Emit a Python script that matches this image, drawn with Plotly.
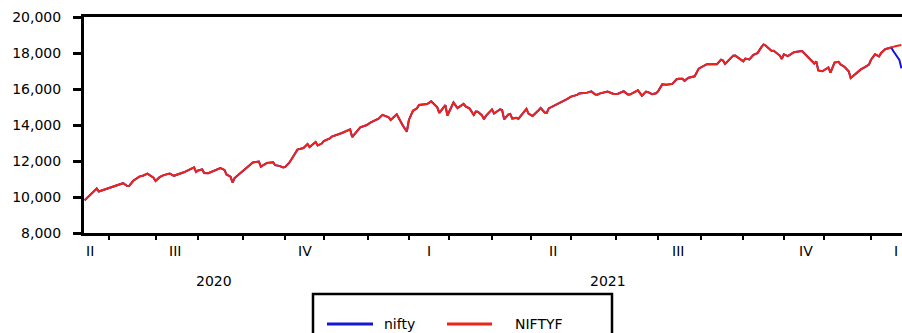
import pandas as pd
import plotly.graph_objects as go

# NSE weekday holidays inside the sample (sessions calendar)
holidays = [
    "2020-10-02", "2020-11-16", "2020-11-30", "2020-12-25",
    "2021-01-26", "2021-03-11", "2021-03-29", "2021-04-02", "2021-04-14",
    "2021-04-21", "2021-05-13", "2021-07-21", "2021-08-19", "2021-09-10",
    "2021-10-15", "2021-11-05", "2021-11-19",
]

# Nifty closing levels, by year
dates_2020 = [
    "2020-06-15", "2020-06-19", "2020-06-22", "2020-06-23", "2020-06-24", "2020-06-26",
    "2020-07-03", "2020-07-10", "2020-07-14", "2020-07-15", "2020-07-17", "2020-07-22",
    "2020-07-24", "2020-07-28", "2020-07-31", "2020-08-03", "2020-08-05", "2020-08-07",
    "2020-08-12", "2020-08-14", "2020-08-21", "2020-08-28", "2020-08-31", "2020-09-01",
    "2020-09-03", "2020-09-04", "2020-09-08", "2020-09-11", "2020-09-16", "2020-09-18",
    "2020-09-21", "2020-09-23", "2020-09-24", "2020-09-25", "2020-10-01", "2020-10-05",
    "2020-10-07", "2020-10-09", "2020-10-14", "2020-10-15", "2020-10-16", "2020-10-20",
    "2020-10-23", "2020-10-26", "2020-10-28", "2020-10-30", "2020-11-02", "2020-11-04",
    "2020-11-06", "2020-11-10", "2020-11-13", "2020-11-18", "2020-11-19", "2020-11-20",
    "2020-11-24", "2020-11-25", "2020-11-27", "2020-12-01", "2020-12-04", "2020-12-07",
    "2020-12-11", "2020-12-14", "2020-12-18", "2020-12-21", "2020-12-22", "2020-12-24",
    "2020-12-28", "2020-12-31",
]
close_2020 = [
    9813, 10244, 10311, 10471, 10305, 10383,
    10607, 10768, 10607, 10618, 10902, 11132,
    11194, 11300, 11073, 10892, 11102, 11214,
    11308, 11178, 11372, 11647, 11388, 11470,
    11527, 11333, 11317, 11464, 11604, 11505,
    11250, 11132, 10806, 11050, 11417, 11503,
    11738, 11914, 11971, 11680, 11762, 11897,
    11930, 11767, 11729, 11642, 11669, 11908,
    12264, 12631, 12720, 12938, 12771, 12859,
    13055, 12858, 12969, 13109, 13259, 13355,
    13514, 13558, 13761, 13328, 13466, 13749,
    13873, 13982,
]

dates_2021 = [
    "2021-01-04", "2021-01-08", "2021-01-12", "2021-01-15", "2021-01-18", "2021-01-21",
    "2021-01-22", "2021-01-25", "2021-01-27", "2021-01-29", "2021-02-01", "2021-02-03",
    "2021-02-05", "2021-02-08", "2021-02-12", "2021-02-16", "2021-02-19", "2021-02-22",
    "2021-02-25", "2021-02-26", "2021-03-01", "2021-03-03", "2021-03-05", "2021-03-10",
    "2021-03-12", "2021-03-16", "2021-03-18", "2021-03-19", "2021-03-22", "2021-03-24",
    "2021-03-25", "2021-03-26", "2021-04-01", "2021-04-05", "2021-04-08", "2021-04-09",
    "2021-04-12", "2021-04-15", "2021-04-16", "2021-04-19", "2021-04-22", "2021-04-23",
    "2021-04-26", "2021-04-29", "2021-04-30", "2021-05-04", "2021-05-07", "2021-05-10",
    "2021-05-12", "2021-05-14", "2021-05-17", "2021-05-19", "2021-05-21", "2021-05-24",
    "2021-05-28", "2021-06-01", "2021-06-04", "2021-06-07", "2021-06-11", "2021-06-15",
    "2021-06-17", "2021-06-18", "2021-06-21", "2021-06-25", "2021-06-28", "2021-06-30",
    "2021-07-02", "2021-07-07", "2021-07-09", "2021-07-12", "2021-07-16", "2021-07-20",
    "2021-07-23", "2021-07-26", "2021-07-28", "2021-07-30", "2021-08-02", "2021-08-04",
    "2021-08-06", "2021-08-11", "2021-08-13", "2021-08-16", "2021-08-18", "2021-08-20",
    "2021-08-24", "2021-08-27", "2021-08-31", "2021-09-03", "2021-09-06", "2021-09-09",
    "2021-09-14", "2021-09-16", "2021-09-17", "2021-09-20", "2021-09-24", "2021-09-27",
    "2021-09-30", "2021-10-01", "2021-10-04", "2021-10-06", "2021-10-08", "2021-10-12",
    "2021-10-14", "2021-10-18", "2021-10-19", "2021-10-22", "2021-10-25", "2021-10-28",
    "2021-10-29", "2021-11-01", "2021-11-03", "2021-11-04", "2021-11-09", "2021-11-12",
    "2021-11-15", "2021-11-18", "2021-11-23", "2021-11-24", "2021-11-25", "2021-11-26",
    "2021-11-30", "2021-12-03", "2021-12-06", "2021-12-08", "2021-12-10", "2021-12-13",
    "2021-12-15", "2021-12-17", "2021-12-20", "2021-12-24", "2021-12-27", "2021-12-29",
    "2021-12-31",
]
close_2021 = [
    14132, 14347, 14564, 14433, 14281, 14590,
    14372, 14239, 13968, 13635, 14281, 14790,
    14924, 15116, 15163, 15314, 14982, 14676,
    15097, 14529, 14762, 15246, 14938, 15174,
    15031, 14911, 14557, 14744, 14736, 14549,
    14325, 14507, 14867, 14638, 14874, 14835,
    14311, 14581, 14617, 14359, 14406, 14341,
    14485, 14895, 14631, 14496, 14823, 14942,
    14697, 14677, 14923, 15030, 15175, 15197,
    15436, 15575, 15670, 15752, 15799, 15869,
    15691, 15683, 15746, 15860, 15815, 15721,
    15722, 15879, 15690, 15692, 15923, 15632,
    15856, 15824, 15709, 15763, 15885, 16258,
    16238, 16282, 16529, 16563, 16569, 16450,
    16625, 16705, 17132, 17324, 17377, 17369,
    17380, 17630, 17585, 17397, 17853, 17855,
    17618, 17532, 17691, 17646, 17895, 17991,
    18339, 18477, 18418, 18115, 18125, 17857,
    17672, 17929, 17830, 17916, 18044, 18103,
    18109, 17765, 17503, 17415, 17536, 17027,
    16983, 17197, 16912, 17469, 17511, 17368,
    17221, 16985, 16614, 17004, 17086, 17213,
    17354,
]

dates_2022 = [
    "2022-01-03", "2022-01-05", "2022-01-07", "2022-01-10", "2022-01-12", "2022-01-14",
    "2022-01-17", "2022-01-18", "2022-01-19", "2022-01-20", "2022-01-21", "2022-01-24",
]
close_2022 = [
    17625, 17925, 17813, 18003, 18212, 18256,
    18309, 18113, 17938, 17757, 17617, 17149,
]

# NIFTYF: fitted path, extended past the last fitted session
fc_start = "2022-01-17"
fc_dates = ["2022-01-18", "2022-01-19", "2022-01-20", "2022-01-21", "2022-01-24"]
niftyf_tail = [18340, 18370, 18400, 18420, 18440]

y_ticks = [8000, 10000, 12000, 14000, 16000, 18000, 20000]
quarter_names = ["I", "II", "III", "IV"]

# ---- session index (trading-day axis) ----
sessions = pd.bdate_range("2020-06-15", "2022-01-24")
sessions = sessions[~sessions.isin(pd.to_datetime(holidays))]
pos = pd.Series(range(len(sessions)), index=sessions)

def idx(dates):
    return [int(pos[pd.Timestamp(d)]) for d in dates]

obs_dates = dates_2020 + dates_2021 + dates_2022
nifty = close_2020 + close_2021 + close_2022
x_nifty = idx(obs_dates)
cut = obs_dates.index(fc_start) + 1
x_f = x_nifty[:cut] + idx(fc_dates)
y_f = nifty[:cut] + niftyf_tail

lo, hi = 0, len(sessions) - 1

# month boundaries -> tick marks
month_first = sessions.to_series().groupby(sessions.to_period("M")).first()
month_ticks = [int(pos[d]) for d in month_first.values if int(pos[d]) > lo]

# quarter labels (partial quarters pinned near the plot edges)
q_groups = sessions.to_series().groupby(sessions.to_period("Q"))
q_annots = []
for per, s in q_groups:
    a, b = int(pos[s.iloc[0]]), int(pos[s.iloc[-1]])
    if a == lo and per.start_time < sessions[0]:
        xq = lo + 2.5
    elif b == hi and per.end_time > sessions[-1]:
        xq = hi - 2.5
    else:
        xq = (a + b) / 2
    q_annots.append((xq, quarter_names[per.quarter - 1]))

y_groups = sessions.to_series().groupby(sessions.year)
year_annots = []
for yr, s in y_groups:
    a, b = int(pos[s.iloc[0]]), int(pos[s.iloc[-1]])
    if b - a > 100:
        year_annots.append(((a + b) / 2, str(yr)))

# ---- figure ----
W, H = 902, 333
ML, MR, MT, MB = 84, 0, 17, 100
PW, PH = W - ML - MR, H - MT - MB

def px(xp):
    return (xp - ML) / PW

def py(yp):
    return (H - MB - yp) / PH

BLUE = "rgb(22,22,214)"
RED = "rgb(238,36,22)"
FONT = "DejaVu Sans"

fig = go.Figure()
fig.add_trace(go.Scatter(x=x_nifty, y=nifty, mode="lines", name="nifty",
                         line=dict(color=BLUE, width=2), showlegend=False))
fig.add_trace(go.Scatter(x=x_f, y=y_f, mode="lines", name="NIFTYF",
                         line=dict(color=RED, width=2), showlegend=False))

annots = []
for xq, t in q_annots:
    annots.append(dict(x=xq, y=py(251), xref="x", yref="paper", text=t,
                       showarrow=False, xanchor="center", yanchor="middle",
                       font=dict(family=FONT, size=14, color="black")))
for xy, t in year_annots:
    annots.append(dict(x=xy, y=py(281), xref="x", yref="paper", text=t,
                       showarrow=False, xanchor="center", yanchor="middle", xshift=-11,
                       font=dict(family=FONT, size=14, color="black")))

# legend box
shapes = [
    dict(type="rect", xref="paper", yref="paper", x0=px(313), x1=px(612),
         y0=py(356), y1=py(294), line=dict(color="black", width=2.5),
         fillcolor="white"),
    dict(type="line", xref="paper", yref="paper", x0=px(327), x1=px(373),
         y0=py(324), y1=py(324), line=dict(color=BLUE, width=3)),
    dict(type="line", xref="paper", yref="paper", x0=px(447), x1=px(492),
         y0=py(324), y1=py(324), line=dict(color=RED, width=3)),
]
for xl, t in [(382, "nifty"), (513, "NIFTYF")]:
    annots.append(dict(x=px(xl), y=py(324), xref="paper", yref="paper", text=t,
                       showarrow=False, xanchor="left", yanchor="middle",
                       font=dict(family=FONT, size=14, color="black")))

fig.update_layout(
    width=W, height=H,
    margin=dict(l=ML, r=MR, t=MT, b=MB, autoexpand=False),
    paper_bgcolor="white", plot_bgcolor="white",
    font=dict(family=FONT, size=14, color="black"),
    annotations=annots, shapes=shapes,
    xaxis=dict(range=[lo - 0.3, hi + 0.3], showgrid=False, zeroline=False,
               showline=True, linecolor="black", linewidth=3, mirror=True,
               tickmode="array", tickvals=month_ticks, ticktext=[""] * len(month_ticks),
               ticks="outside", ticklen=4, tickwidth=2, tickcolor="black"),
    yaxis=dict(range=[8000, 20000], showgrid=False, zeroline=False,
               showline=True, linecolor="black", linewidth=3,
               tickmode="array", tickvals=y_ticks,
               ticktext=[f"{v:,}" for v in y_ticks],
               ticks="outside", ticklen=8, tickwidth=2.5, tickcolor="black",
               ticklabelstandoff=9,
               tickfont=dict(family=FONT, size=14, color="black")),
)

fig.write_html("out.html")
